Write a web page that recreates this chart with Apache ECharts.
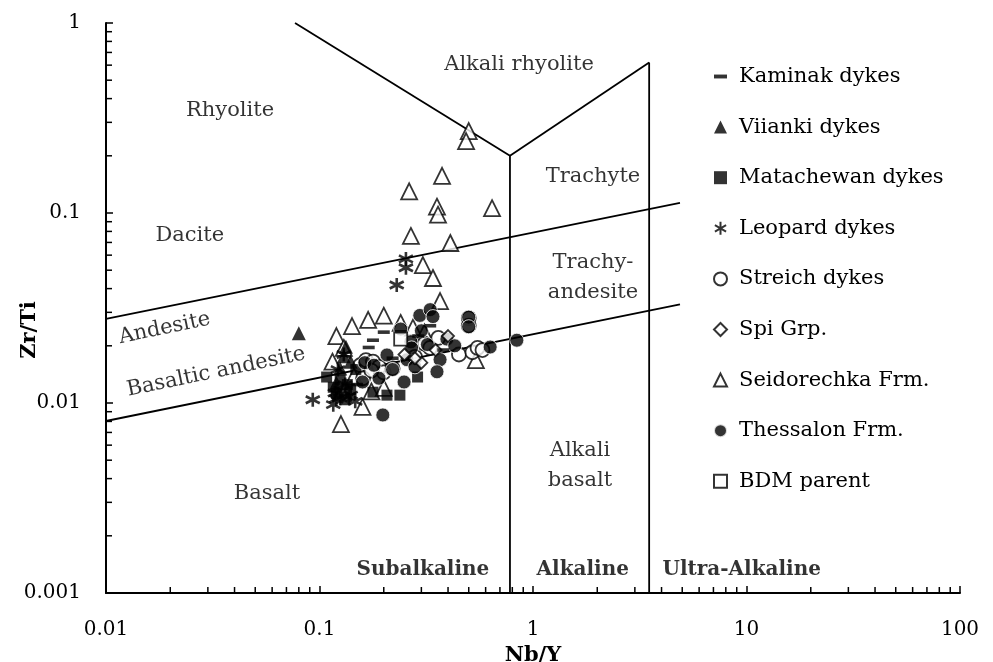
<!DOCTYPE html>
<html>
<head>
<meta charset="utf-8">
<script src="https://cdn.jsdelivr.net/npm/echarts@6/dist/echarts.min.js"></script>
<style>
  html, body { margin: 0; padding: 0; background: #fff; }
  #chart { width: 993px; height: 662px; }
</style>
</head>
<body>
<div id="chart"></div>
<script>
// Nb/Y , Zr/Ti
var kaminak = [[0.178,0.0214],[0.17,0.0196],[0.2,0.0236],[0.33,0.0255],[0.15,0.0125],[0.38,0.019],[0.22,0.0172],[0.29,0.0225]];
var viianki = [[0.08,0.0233],[0.133,0.0198],[0.13,0.0176],[0.125,0.0152],[0.14,0.0165],[0.12,0.0128]];
var matachewan = [[0.108,0.0137],[0.125,0.0132],[0.116,0.0121],[0.132,0.0104],[0.14,0.0118],[0.288,0.0137],[0.207,0.011],[0.238,0.011],[0.178,0.0114],[0.148,0.015],[0.12,0.0112],[0.135,0.0125]];
var leopard = [[0.254,0.0573],[0.254,0.0515],[0.23,0.0418],[0.093,0.0104],[0.118,0.0113],[0.125,0.0106],[0.132,0.0125],[0.116,0.0098],[0.14,0.011],[0.13,0.018],[0.122,0.015],[0.147,0.0102],[0.128,0.0116],[0.137,0.0108],[0.12,0.0105]];
var streich = [[0.155,0.0158],[0.165,0.0168],[0.178,0.0165],[0.19,0.0155],[0.16,0.0135],[0.2,0.0145],[0.175,0.0148],[0.31,0.0205],[0.33,0.0195],[0.45,0.018],[0.52,0.0185],[0.55,0.0195],[0.58,0.019],[0.5,0.028],[0.5,0.0255],[0.28,0.0175],[0.22,0.0152],[0.36,0.022]];
var spi = [[0.3,0.0163],[0.28,0.0172],[0.35,0.019],[0.25,0.018],[0.4,0.0225]];
var seidorechka = [[0.5,0.27],[0.486,0.239],[0.375,0.157],[0.263,0.13],[0.355,0.108],[0.359,0.098],[0.643,0.106],[0.268,0.0757],[0.41,0.0695],[0.305,0.0532],[0.34,0.0455],[0.367,0.0344],[0.12,0.0225],[0.142,0.0254],[0.169,0.0274],[0.2,0.0288],[0.24,0.0264],[0.274,0.0249],[0.159,0.00953],[0.126,0.00775],[0.54,0.0168],[0.13,0.0195],[0.115,0.0165],[0.175,0.0115],[0.2,0.012],[0.31,0.0235],[0.145,0.0138]];
var thessalon = [[0.295,0.0289],[0.33,0.031],[0.34,0.0285],[0.395,0.0217],[0.32,0.0203],[0.268,0.021],[0.207,0.0179],[0.257,0.0169],[0.367,0.0169],[0.355,0.0146],[0.163,0.0163],[0.18,0.0158],[0.159,0.0129],[0.249,0.0129],[0.198,0.00865],[0.5,0.0283],[0.5,0.0252],[0.63,0.0197],[0.84,0.0214],[0.3,0.024],[0.24,0.0245],[0.28,0.0155],[0.22,0.015],[0.19,0.0135],[0.27,0.0195],[0.43,0.02]];
var bdm = [[0.24,0.0217]];

// field boundaries
var boundaries = [
  [[0.0768,1],[0.78,0.2]],
  [[0.78,0.2],[3.5,0.62]],
  [[0.78,0.2],[0.78,0.001]],
  [[3.5,0.62],[3.5,0.001]],
  [[0.01,0.0277],[4.88,0.113]],
  [[0.01,0.00804],[4.88,0.033]]
];

var fieldNames = [
  {name:'Alkali rhyolite', value:[0.86,0.608]},
  {name:'Rhyolite', value:[0.0381,0.348]},
  {name:'Dacite', value:[0.0247,0.0757]},
  {name:'Trachyte', value:[1.91,0.155]},
  {name:'Trachy-\nandesite', value:[1.91,0.046]},
  {name:'Andesite', value:[0.0188,0.0247], rotate:11.7},
  {name:'Basaltic andesite', value:[0.0328,0.01456], rotate:11.7},
  {name:'Alkali\nbasalt', value:[1.66,0.00466]},
  {name:'Basalt', value:[0.0568,0.00332]}
];
var seriesNames = [
  {name:'Subalkaline', value:[0.305,0.00132]},
  {name:'Alkaline', value:[1.71,0.00132]},
  {name:'Ultra-Alkaline', value:[9.5,0.00132]}
];

var decades = [0.001,0.01,0.1,1,10];
var minorSteps = [2,3,4,5,6,7,8,9];

var FONT = 'DejaVu Serif';
var chart = echarts.init(document.getElementById('chart'));

var xMinor = [], yMinor = [];
decades.forEach(function (d) {
  minorSteps.forEach(function (k) {
    var v = +(k * d).toPrecision(2);
    if (v > 0.01 && v < 100) xMinor.push([v, 0.001]);
    if (v > 0.001 && v < 1) yMinor.push([0.01, v]);
  });
});

function tickRender(dir) {
  return function (params, api) {
    var p = api.coord([api.value(0), api.value(1)]);
    var shape = dir === 'x'
      ? {x1:p[0], y1:p[1], x2:p[0], y2:p[1]-6}
      : {x1:p[0], y1:p[1], x2:p[0]+6, y2:p[1]};
    return {type:'line', shape:shape, style:{stroke:'#000', lineWidth:1.5}};
  };
}

var openStyle = {color:'#fff', borderColor:'#000', borderWidth:1.8};

var series = [];
boundaries.forEach(function (b) {
  series.push({type:'line', data:b, symbol:'none', silent:true, z:1,
    lineStyle:{color:'#000', width:1.8}});
});
series.push(
  {type:'custom', renderItem:tickRender('x'), data:xMinor, clip:false, silent:true, z:3},
  {type:'custom', renderItem:tickRender('y'), data:yMinor, clip:false, silent:true, z:3},
  {name:'Seidorechka Frm.', type:'scatter', data:seidorechka, symbol:'triangle', symbolSize:16, itemStyle:openStyle, z:4},
  {name:'Streich dykes', type:'scatter', data:streich, symbol:'circle', symbolSize:14, itemStyle:openStyle, z:4},
  {name:'Leopard dykes', type:'scatter', data:leopard, symbol:'path://M5,0L5,10M0.7,2.5L9.3,7.5M0.7,7.5L9.3,2.5', symbolSize:14,
    itemStyle:{color:'rgba(0,0,0,0)', borderColor:'#000', borderWidth:2.6}, z:4},
  {name:'Matachewan dykes', type:'scatter', data:matachewan, symbol:'rect', symbolSize:11, itemStyle:{color:'#000'}, z:4},
  {name:'Viianki dykes', type:'scatter', data:viianki, symbol:'triangle', symbolSize:14, itemStyle:{color:'#000'}, z:4},
  {name:'Thessalon Frm.', type:'scatter', data:thessalon, symbol:'circle', symbolSize:14,
    itemStyle:{color:'#000', borderColor:'#fff', borderWidth:1}, z:5},
  {name:'Spi Grp.', type:'scatter', data:spi, symbol:'diamond', symbolSize:12, itemStyle:openStyle, z:5},
  {name:'Kaminak dykes', type:'scatter', data:kaminak, symbol:'path://M0,0H10V3H0Z', symbolKeepAspect:true, symbolSize:12, itemStyle:{color:'#000'}, z:5},
  {name:'BDM parent', type:'scatter', data:bdm, symbol:'rect', symbolSize:13, itemStyle:openStyle, z:5},
  {type:'scatter', symbolSize:0, silent:true, z:6,
    data:fieldNames.map(function (f) {
      var it = {name:f.name, value:f.value};
      if (f.rotate) it.label = {rotate:f.rotate};
      return it;
    }),
    label:{show:true, position:'inside', formatter:'{b}', color:'#000', fontFamily:FONT, fontSize:21, lineHeight:30}},
  {type:'scatter', data:seriesNames, symbolSize:0, silent:true, z:6,
    label:{show:true, position:'inside', formatter:'{b}', color:'#000', fontFamily:FONT, fontSize:20, fontWeight:'bold'}}
);

var legendOrder = ['Kaminak dykes','Viianki dykes','Matachewan dykes','Leopard dykes','Streich dykes','Spi Grp.','Seidorechka Frm.','Thessalon Frm.','BDM parent'];

chart.setOption({
  animation:false,
  backgroundColor:'#fff',
  textStyle:{fontFamily:FONT},
  grid:{left:106, right:33, top:23, bottom:69, outerBoundsMode:'none'},
  legend:{
    data:legendOrder, orient:'vertical', left:708, top:61,
    itemWidth:13, itemHeight:13, itemGap:29.6, symbolKeepAspect:true,
    textStyle:{fontFamily:FONT, fontSize:21, color:'#000', padding:[0,0,0,7]}
  },
  // y axis title
  graphic:[{
    type:'text', x:30, y:330, rotation:Math.PI/2,
    style:{text:'Zr/Ti', fill:'#000', font:'bold 21px "DejaVu Serif"', align:'center', verticalAlign:'middle'}
  }],
  xAxis:{
    type:'log', logBase:10, min:0.01, max:100,
    name:'Nb/Y', nameLocation:'middle', nameGap:42,
    nameTextStyle:{fontFamily:FONT, fontWeight:'bold', fontSize:21, color:'#000'},
    axisLine:{lineStyle:{color:'#000', width:2}},
    axisTick:{inside:true, length:7, lineStyle:{color:'#000', width:1.5}},
    axisLabel:{color:'#000', fontFamily:FONT, fontSize:20, margin:27,
      formatter:function (v) { return String(+v.toPrecision(1)); }},
    splitLine:{show:false}
  },
  yAxis:{
    type:'log', logBase:10, min:0.001, max:1,
    axisLine:{lineStyle:{color:'#000', width:2}},
    axisTick:{inside:true, length:7, lineStyle:{color:'#000', width:1.5}},
    axisLabel:{color:'#000', fontFamily:FONT, fontSize:20, margin:25,
      formatter:function (v) { return String(+v.toPrecision(1)); }},
    splitLine:{show:false}
  },
  series:series
});
</script>
</body>
</html>
